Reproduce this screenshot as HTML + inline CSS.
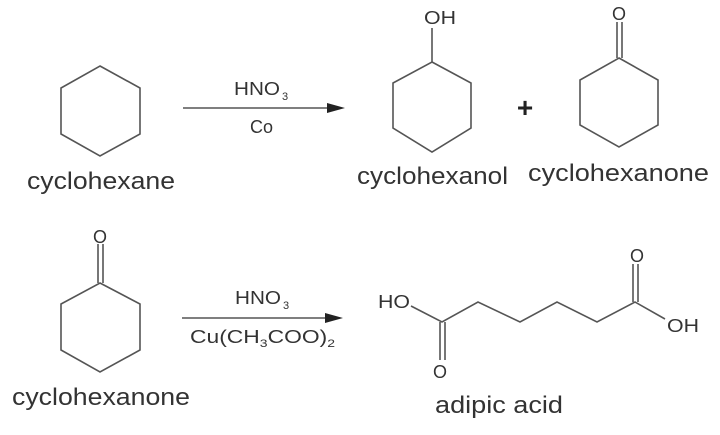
<!DOCTYPE html>
<html><head><style>html,body{margin:0;padding:0;background:#fff}</style></head><body>
<svg width="720" height="430" viewBox="0 0 720 430" xmlns="http://www.w3.org/2000/svg" font-family="Liberation Sans, sans-serif" fill="#333">
<g stroke="#555" stroke-width="1.6" fill="none">
<polygon points="100,66 140,88 140,134 100,156 61,134 61,88"/>
<polygon points="432,62 471,83 471,128 432,152 393,128 393,83"/>
<line x1="432" y1="62" x2="432" y2="28"/>
<polygon points="619,58 658,80 658,125 619,147 580,125 580,80"/>
<line x1="617" y1="58" x2="617" y2="22"/><line x1="622" y1="58" x2="622" y2="22"/>
<polygon points="100,283 140,304 140,350 100,372 61,350 61,304"/>
<line x1="98" y1="283" x2="98" y2="244"/><line x1="103" y1="283" x2="103" y2="244"/>
<polyline points="411,306 442,322 478,302 520,322 557,302 597,322 635,302 665,319"/>
<line x1="633" y1="302" x2="633" y2="264"/><line x1="638" y1="302" x2="638" y2="264"/>
<line x1="440" y1="322" x2="440" y2="360"/><line x1="445" y1="322" x2="445" y2="360"/>
<line x1="183" y1="108" x2="330" y2="108"/>
<line x1="182" y1="318" x2="328" y2="318"/>
</g>
<polygon points="345,108 327,103 327,113" fill="#222"/>
<polygon points="343,318 325,313 325,323" fill="#222"/>
<text x="525" y="117" font-size="28" text-anchor="middle" font-weight="bold" fill="#222">+</text>
<g font-size="18">
<text x="234" y="95" textLength="46" lengthAdjust="spacingAndGlyphs">HNO</text><text x="282" y="100" font-size="11">3</text>
<text x="250" y="133">Co</text>
<text x="235" y="304" textLength="46" lengthAdjust="spacingAndGlyphs">HNO</text><text x="283" y="309" font-size="11">3</text>
<text x="190" y="343" textLength="145" lengthAdjust="spacingAndGlyphs">Cu(CH<tspan font-size="11" dy="4">3</tspan><tspan dy="-4">COO)</tspan><tspan font-size="11" dy="4">2</tspan></text>
<text x="424" y="24" textLength="32" lengthAdjust="spacingAndGlyphs">OH</text>
<text x="619" y="20" text-anchor="middle">O</text>
<text x="100" y="243" text-anchor="middle">O</text>
<text x="378" y="308" textLength="32" lengthAdjust="spacingAndGlyphs">HO</text>
<text x="637" y="262" text-anchor="middle">O</text>
<text x="667" y="332" textLength="32" lengthAdjust="spacingAndGlyphs">OH</text>
<text x="440" y="378" text-anchor="middle">O</text>
</g>
<g font-size="24">
<text x="27" y="189" textLength="148" lengthAdjust="spacingAndGlyphs">cyclohexane</text>
<text x="357" y="184" textLength="151" lengthAdjust="spacingAndGlyphs">cyclohexanol</text>
<text x="528" y="181" textLength="181" lengthAdjust="spacingAndGlyphs">cyclohexanone</text>
<text x="12" y="405" textLength="178" lengthAdjust="spacingAndGlyphs">cyclohexanone</text>
<text x="435" y="413" textLength="128" lengthAdjust="spacingAndGlyphs">adipic acid</text>
</g>
</svg>
</body></html>
